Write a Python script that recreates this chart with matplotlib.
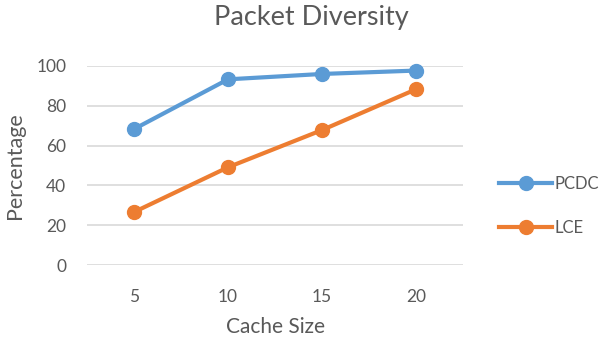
import matplotlib.pyplot as plt
from matplotlib.lines import Line2D

plt.rcParams['font.family'] = ['Lato', 'DejaVu Sans']

cache_sizes = ["5", "10", "15", "20"]
pcdc = [68.3, 93.3, 96.0, 97.7]
lce = [26.6, 49.1, 67.8, 88.3]

blue = "#5B9BD5"
orange = "#ED7D31"
text_gray = "#595959"
grid_gray = "#D9D9D9"

fig = plt.figure(figsize=(6.03, 3.41), dpi=100)
ax = fig.add_axes([87 / 603, 1 - 265 / 341, 376 / 603, 199 / 341])

x = list(range(len(cache_sizes)))
ax.plot(x, pcdc, color=blue, lw=3, marker="o", ms=10, clip_on=False, zorder=3)
ax.plot(x, lce, color=orange, lw=3, marker="o", ms=10, clip_on=False, zorder=3)

ax.set_xlim(-0.5, len(cache_sizes) - 0.5)
ax.set_ylim(0, 100)
ax.set_yticks(range(0, 101, 20))
ax.set_xticks(x)
ax.set_xticklabels(cache_sizes)
ax.grid(axis="y", color=grid_gray, lw=1.2)
ax.set_axisbelow(True)
for s in ax.spines.values():
    s.set_visible(False)
ax.tick_params(axis="y", length=0, labelsize=12.5, colors=text_gray, pad=15)
ax.tick_params(axis="x", length=0, labelsize=12.5, colors=text_gray, pad=17)

ax.set_xlabel("Cache Size", fontsize=15, color=text_gray, labelpad=9)
ax.set_ylabel("Percentage", fontsize=15.5, color=text_gray, labelpad=8)
fig.text(311 / 603, 1 - 18 / 341, "Packet Diversity", ha="center", va="center",
         fontsize=19.5, color=text_gray)

handles = [Line2D([], [], color=blue, lw=3, marker="o", ms=10),
           Line2D([], [], color=orange, lw=3, marker="o", ms=10)]
fig.legend(handles, ["PCDC", "LCE"], loc="center left",
           bbox_to_anchor=(499 / 603, 1 - 206 / 341), frameon=False,
           borderpad=0, borderaxespad=0,
           fontsize=12, labelcolor=text_gray, handlelength=3.2,
           handletextpad=0.1, labelspacing=1.7)

fig.savefig("out.png", dpi=100)
